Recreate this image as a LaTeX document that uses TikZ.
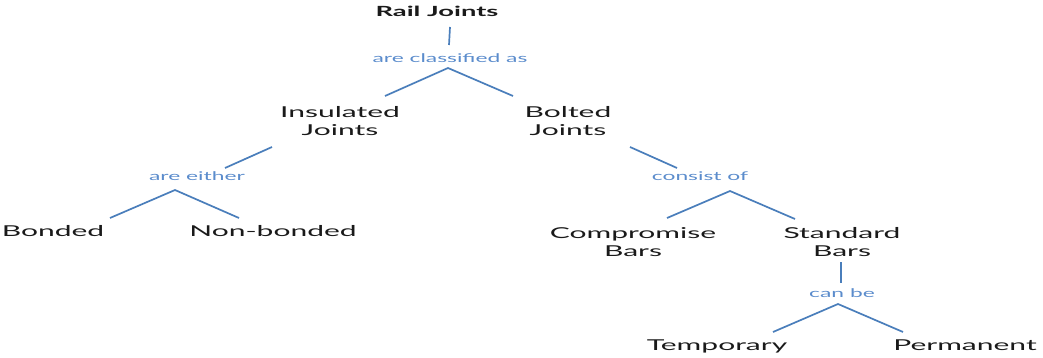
\documentclass[tikz,border=0pt]{standalone}
\usepackage{fontspec}
\setmainfont{Lato}
\definecolor{txtgray}{HTML}{1A1A1A}
\definecolor{lineblue}{HTML}{4A7EBB}
\definecolor{labblue}{HTML}{5B8CCC}
\newcommand\hs[1]{\scalebox{2.0}[1]{#1}}
\newcommand\hsb[1]{\scalebox{1.95}[1]{#1}}
\newcommand\hsr[1]{\scalebox{1.9}[1]{#1}}
\tikzset{
  term/.style={inner sep=0pt, text=txtgray, align=center, font=\fontsize{15}{18}\selectfont},
  rel/.style={inner sep=0pt, text=labblue, anchor=base, font=\fontsize{12}{14}\selectfont},
  link/.style={draw=lineblue, line width=1.7pt}
}
\begin{document}
\begin{tikzpicture}[x=1pt,y=-1pt]
\useasboundingbox (0,0) rectangle (1043,358);
% nodes
\node[term, anchor=base, font=\fontsize{14}{18}\selectfont\bfseries] (rail) at (437,17) {\hsb{Rail Joints}};
\node[rel] (classified) at (450,63) {\hsr{are classified as}};
\node[term] (insulated) at (340,121) {\hs{Insulated}\\\hs{Joints}};
\node[term] (bolted) at (568,121) {\hs{Bolted}\\\hs{Joints}};
\node[rel] (either) at (197,180) {\hsr{are either}};
\node[rel] (consist) at (700,180) {\hsr{consist of}};
\node[term, anchor=base] (bonded) at (53,236) {\hs{Bonded}};
\node[term, anchor=base] (nonbonded) at (273,236) {\hs{Non-bonded}};
\node[term] (compromise) at (633,242) {\hs{Compromise}\\\hs{Bars}};
\node[term] (standard) at (842,242) {\hs{Standard}\\\hs{Bars}};
\node[rel] (canbe) at (842,297) {\hsr{can be}};
\node[term, anchor=base] (temporary) at (717,350) {\hs{Temporary}};
\node[term, anchor=base] (permanent) at (965,350) {\hs{Permanent}};
% connector ends
\coordinate (r1) at (450,27);
\coordinate (c0) at (449,45);
\coordinate (c1) at (448,68);
\coordinate (i1) at (385,96);
\coordinate (b1) at (513,96);
\coordinate (i2) at (272,147);
\coordinate (e0) at (225,168);
\coordinate (e1) at (175,190);
\coordinate (bo1) at (110,218);
\coordinate (nb1) at (239,218);
\coordinate (b2) at (630,147);
\coordinate (k0) at (677,168);
\coordinate (k1) at (730,191);
\coordinate (cp1) at (667,218);
\coordinate (sd1) at (795,219);
\coordinate (s2) at (841,262);
\coordinate (cb0) at (841,283);
\coordinate (cb1) at (838,304);
\coordinate (tp1) at (773,332);
\coordinate (pm1) at (903,332);
% connectors
\draw[link] (r1) -- (c0);
\draw[link] (i1) -- (c1) -- (b1);
\draw[link] (i2) -- (e0);
\draw[link] (bo1) -- (e1) -- (nb1);
\draw[link] (b2) -- (k0);
\draw[link] (cp1) -- (k1) -- (sd1);
\draw[link] (s2) -- (cb0);
\draw[link] (tp1) -- (cb1) -- (pm1);
\end{tikzpicture}
\end{document}
